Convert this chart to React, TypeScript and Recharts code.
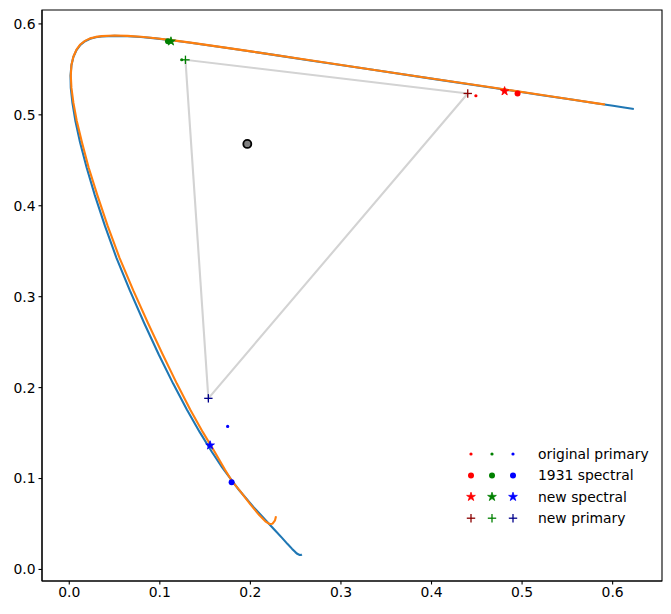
import React from 'react';
import { ScatterChart, Scatter, XAxis, YAxis, ReferenceArea } from 'recharts';

// CIE 1931 spectral locus in u'v' (blue line)
const locus1931: [number, number][] = [
  [0.2568, 0.0166], [0.2557, 0.0159], [0.2545, 0.0159], [0.2522, 0.0169], [0.2496, 0.0191],
  [0.2461, 0.0226], [0.2411, 0.0279], [0.2347, 0.035], [0.2266, 0.0437], [0.2161, 0.0549],
  [0.2033, 0.0688], [0.1877, 0.0871], [0.169, 0.1119], [0.1572, 0.1297], [0.1441, 0.151],
  [0.1298, 0.176], [0.1147, 0.2044], [0.0988, 0.2364], [0.0828, 0.2708], [0.067, 0.3066],
  [0.0521, 0.3427], [0.0393, 0.3781], [0.0282, 0.4117], [0.0191, 0.4424], [0.0119, 0.4698],
  [0.0068, 0.4932], [0.0035, 0.5131], [0.0017, 0.5296], [0.0014, 0.5432], [0.0024, 0.5546],
  [0.0046, 0.5638], [0.008, 0.5713], [0.0123, 0.577], [0.0174, 0.581], [0.0231, 0.5837],
  [0.0293, 0.5853], [0.036, 0.5861], [0.0501, 0.5868], [0.0643, 0.5865], [0.0792, 0.5856],
  [0.0953, 0.5841], [0.1127, 0.5821], [0.1319, 0.5796], [0.1531, 0.5766], [0.1766, 0.5732],
  [0.2026, 0.5694], [0.2312, 0.5651], [0.2623, 0.5604], [0.3315, 0.5501], [0.4035, 0.5393],
  [0.4692, 0.5296], [0.5203, 0.5219], [0.5565, 0.5165], [0.583, 0.5125], [0.6005, 0.5099],
  [0.6109, 0.5084], [0.6199, 0.507], [0.6234, 0.5065],
];

// new locus (orange line)
const locusNew: [number, number][] = [
  [0.2283, 0.0585], [0.2272, 0.054], [0.2245, 0.0503], [0.221, 0.05], [0.2165, 0.053],
  [0.21, 0.0595], [0.2, 0.0715], [0.1885, 0.0865], [0.1795, 0.0975], [0.172, 0.1095],
  [0.1605, 0.1295], [0.1475, 0.151], [0.1335, 0.176], [0.1188, 0.2044], [0.1032, 0.2364],
  [0.087, 0.2708], [0.0708, 0.3066], [0.0555, 0.3427], [0.0423, 0.3781], [0.031, 0.4117],
  [0.0213, 0.4424], [0.014, 0.4698], [0.0083, 0.4932], [0.0046, 0.5131], [0.0024, 0.5296],
  [0.0017, 0.5432], [0.0024, 0.5548], [0.0046, 0.5641], [0.008, 0.5716], [0.0122, 0.5774],
  [0.0174, 0.5814], [0.023, 0.5841], [0.0293, 0.5857], [0.0359, 0.5866], [0.05, 0.5872],
  [0.0643, 0.5868], [0.0792, 0.5858], [0.0953, 0.5842], [0.1127, 0.5822], [0.1319, 0.5797],
  [0.1531, 0.5767], [0.2026, 0.5695], [0.2623, 0.5605], [0.3315, 0.5502], [0.4035, 0.5394],
  [0.4692, 0.5297], [0.5203, 0.522], [0.5565, 0.5166], [0.583, 0.5126], [0.5916, 0.5113],
];

const primaryColors = ['#ff0000', '#008000', '#0000ff'];
const newPrimaryColors = ['#8b0000', '#008000', '#00008b'];

const originalPrimary: [number, number][] = [[0.449, 0.521], [0.1242, 0.5606], [0.1749, 0.1573]];
const spectral1931: [number, number][] = [[0.495, 0.5235], [0.109, 0.581], [0.1793, 0.096]];
const newSpectral: [number, number][] = [[0.4807, 0.526], [0.1123, 0.5808], [0.1555, 0.1365]];
const newPrimary: [number, number][] = [[0.44, 0.5235], [0.1283, 0.5605], [0.1536, 0.1882]];
const whitePoint: [number, number][] = [[0.1966, 0.468]];

const xTicks = [0, 0.1, 0.2, 0.3, 0.4, 0.5, 0.6];
const yTicks = [0, 0.1, 0.2, 0.3, 0.4, 0.5, 0.6];
const legendLabels = ['original primary', '1931 spectral', 'new spectral', 'new primary'];

const toPts = (arr: [number, number][], colors?: string[]) =>
  arr.map(([u, v], i) => ({ u, v, c: colors ? colors[i] : '#000' }));

const FONT = "'DejaVu Sans', sans-serif";
const X_DOMAIN: [number, number] = [-0.0301, 0.6545];
const Y_DOMAIN: [number, number] = [-0.0127, 0.6153];

const starPath = (cx: number, cy: number, R: number) => {
  const r = R * 0.381966;
  const pts: string[] = [];
  for (let k = 0; k < 10; k++) {
    const rad = k % 2 === 0 ? R : r;
    const a = -Math.PI / 2 + (k * Math.PI) / 5;
    pts.push(`${(cx + rad * Math.cos(a)).toFixed(2)},${(cy + rad * Math.sin(a)).toFixed(2)}`);
  }
  return 'M' + pts.join('L') + 'Z';
};

const drawMarker = (kind: string, cx: number, cy: number, c: string, key?: string) => {
  if (kind === 'dot') return <circle key={key} cx={cx} cy={cy} r={1.6} fill={c} />;
  if (kind === 'circle') return <circle key={key} cx={cx} cy={cy} r={3} fill={c} />;
  if (kind === 'star') return <path key={key} d={starPath(cx, cy, 4.6)} fill={c} stroke={c} strokeWidth={0.8} />;
  if (kind === 'plus')
    return (
      <g key={key} stroke={c} strokeWidth={1.3}>
        <line x1={cx - 4.2} y1={cy} x2={cx + 4.2} y2={cy} />
        <line x1={cx} y1={cy - 4.2} x2={cx} y2={cy + 4.2} />
      </g>
    );
  return <g key={key} />;
};

const markerShape = (kind: string) => (props: any) => {
  const c = (props.payload && props.payload.c) || props.c || '#000';
  return drawMarker(kind, props.cx, props.cy, c);
};

const emptyShape = () => <g />;

const whiteShape = (props: any) => (
  <circle cx={props.cx} cy={props.cy} r={4} fill="#808080" stroke="#000" strokeWidth={1.8} />
);

const legendKinds = ['dot', 'circle', 'star', 'plus'];

export default function App() {
  const tickStyle = { fill: '#000', fontSize: 13.9, fontFamily: FONT };
  const triangle = toPts([...newPrimary, newPrimary[0]]);
  return (
    <div style={{ position: 'relative', width: 671, height: 614, marginLeft: -8, marginTop: -8, background: '#fff' }}>
      <ScatterChart width={671} height={614} margin={{ top: 10, right: 9, bottom: 0, left: 0 }}>
        <XAxis
          type="number"
          dataKey="u"
          domain={X_DOMAIN}
          allowDataOverflow
          ticks={xTicks}
          tickFormatter={(v: number) => v.toFixed(1)}
          height={33}
          tickSize={3.5}
          tickMargin={3}
          tick={tickStyle}
          axisLine={{ stroke: '#000', strokeWidth: 1.1 }}
          tickLine={{ stroke: '#000', strokeWidth: 1.1 }}
        />
        <YAxis
          type="number"
          dataKey="v"
          domain={Y_DOMAIN}
          allowDataOverflow
          ticks={yTicks}
          tickFormatter={(v: number) => v.toFixed(1)}
          width={42}
          tickSize={3.5}
          tickMargin={3}
          tick={tickStyle}
          axisLine={{ stroke: '#000', strokeWidth: 1.1 }}
          tickLine={{ stroke: '#000', strokeWidth: 1.1 }}
        />
        <ReferenceArea
          x1={X_DOMAIN[0]}
          x2={X_DOMAIN[1]}
          y1={Y_DOMAIN[0]}
          y2={Y_DOMAIN[1]}
          fill="none"
          fillOpacity={0}
          stroke="#000"
          strokeWidth={1.1}
          ifOverflow="visible"
        />
        <Scatter
          data={toPts(locus1931)}
          line={{ stroke: '#1f77b4', strokeWidth: 2.1, strokeLinejoin: 'round' }}
          lineType="joint"
          shape={emptyShape}
          isAnimationActive={false}
        />
        <Scatter
          data={toPts(locusNew)}
          line={{ stroke: '#ff7f0e', strokeWidth: 2.1, strokeLinejoin: 'round' }}
          lineType="joint"
          shape={emptyShape}
          isAnimationActive={false}
        />
        <Scatter
          data={triangle}
          line={{ stroke: '#d3d3d3', strokeWidth: 2.1 }}
          lineType="joint"
          shape={emptyShape}
          isAnimationActive={false}
        />
        <Scatter data={toPts(originalPrimary, primaryColors)} shape={markerShape('dot')} isAnimationActive={false} />
        <Scatter data={toPts(spectral1931, primaryColors)} shape={markerShape('circle')} isAnimationActive={false} />
        <Scatter data={toPts(newSpectral, primaryColors)} shape={markerShape('star')} isAnimationActive={false} />
        <Scatter data={toPts(newPrimary, newPrimaryColors)} shape={markerShape('plus')} isAnimationActive={false} />
        <Scatter data={toPts(whitePoint)} shape={whiteShape} isAnimationActive={false} />
      </ScatterChart>
      <svg
        width={671}
        height={614}
        style={{ position: 'absolute', left: 0, top: 0, pointerEvents: 'none' }}
      >
        {legendLabels.map((label, row) => {
          const y = 454 + row * 21.4;
          const colors = row === 3 ? newPrimaryColors : primaryColors;
          return (
            <g key={label}>
              {colors.map((c, i) => drawMarker(legendKinds[row], 471 + i * 21, y, c, label + i))}
              <text x={538} y={y} dy="0.36em" fontSize={13.9} fontFamily={FONT} fill="#000">
                {label}
              </text>
            </g>
          );
        })}
      </svg>
    </div>
  );
}
